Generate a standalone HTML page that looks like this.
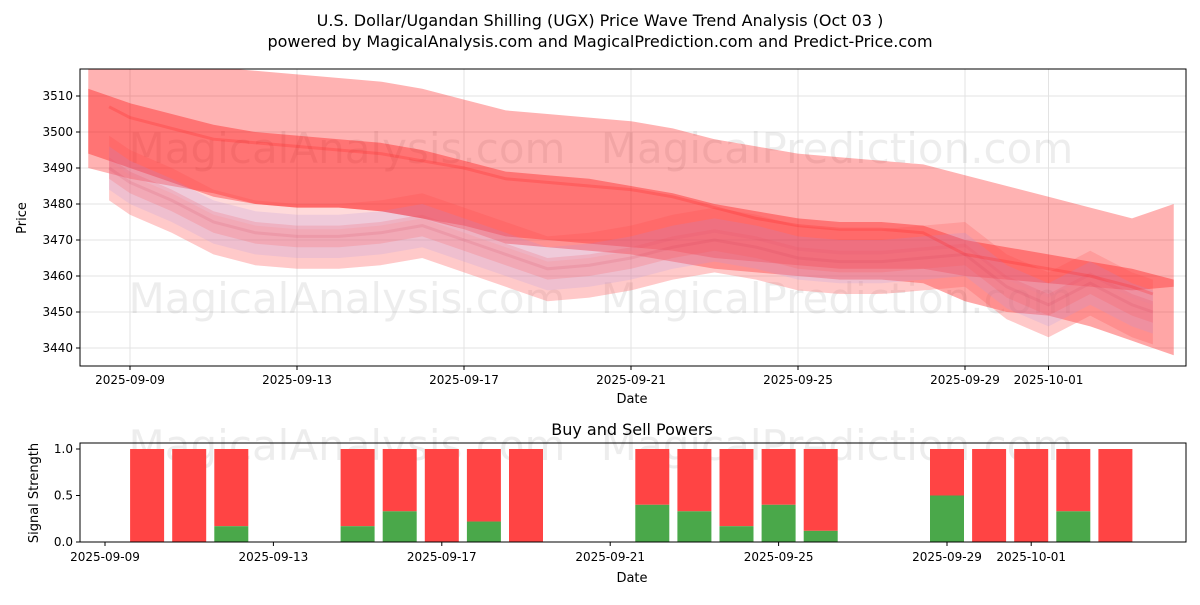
<!DOCTYPE html>
<html><head><meta charset="utf-8"><style>
body{margin:0;background:#fff;font-family:"Liberation Sans","DejaVu Sans",sans-serif}
svg text{font-family:"DejaVu Sans","Liberation Sans",sans-serif}
</style></head><body>
<svg id="c" width="1200" height="600" xmlns="http://www.w3.org/2000/svg"></svg>
<script>
// ---- data ----
const bandDays=[-1,0,1,2,3,4,5,6,7,8,9,10,11,12,13,14,15,16,17,18,19,20,21,22,23,24,25];
const wideTop=[3518,3518,3518,3518,3517,3516,3515,3514,3512,3509,3506,3505,3504,3503,3501,3498,3496,3494,3493,3492,3491,3488,3485,3482,3479,3476,3480];
const wideBot=[3490,3487,3485,3483,3480,3479,3479,3478,3476,3474,3471,3470,3469,3468,3467,3465,3464,3463,3462,3462,3462,3460,3459,3458,3457,3456,3457];
const midTop=[3512,3508,3505,3502,3500,3499,3498,3497,3495,3492,3489,3488,3487,3485,3483,3480,3478,3476,3475,3475,3474,3470,3468,3466,3464,3462,3459];
const midBot=[3494,3490,3486,3482,3480,3479,3479,3478,3476,3473,3469,3468,3467,3466,3464,3462,3461,3460,3459,3459,3458,3453,3450,3449,3446,3442,3438];
const lineDays=[-0.5,0,1,2,3,4,5,6,7,8,9,10,11,12,13,14,15,16,17,18,19,20,21,22,23,24,24.5];
const centerLine=[3490,3486,3481,3475,3472,3471,3471,3472,3474,3470,3466,3462,3463,3465,3468,3470,3468,3465,3464,3464,3465,3466,3457,3452,3458,3452,3450];
const redLine=[3507,3504,3501,3498,3497,3496,3495,3494,3492,3490,3487,3486,3485,3484,3482,3479,3476,3474,3473,3473,3472,3466,3464,3462,3460,3457,3455];
const barDates=["2025-09-10","2025-09-11","2025-09-12","2025-09-15","2025-09-16","2025-09-17","2025-09-18","2025-09-19","2025-09-22","2025-09-23","2025-09-24","2025-09-25","2025-09-26","2025-09-29","2025-09-30","2025-10-01","2025-10-02","2025-10-03"];
const buyPower=[0,0,0.17,0.17,0.33,0,0.22,0,0.4,0.33,0.17,0.4,0.12,0.5,0,0,0.33,0];
const xTickLabels=["2025-09-09","2025-09-13","2025-09-17","2025-09-21","2025-09-25","2025-09-29","2025-10-01"];
const xTickDays=[0,4,8,12,16,20,22];
const yTicks=[3440,3450,3460,3470,3480,3490,3500,3510];
const sTicks=[0,0.5,1];

const svg=document.getElementById('c');const NS='http://www.w3.org/2000/svg';
function mk(t,a,p){const e=document.createElementNS(NS,t);for(const k in a)e.setAttribute(k,a[k]);(p||svg).appendChild(e);return e;}
const X0=80,X1=1186,Y0=69,Y1=366;
const x=d=>130+d*41.75, y=p=>96+(3510-p)*3.6;
const bx=d=>105+d*42.1, by=v=>542-v*93;
const dayOf=s=>(new Date(s+"T00:00:00Z")-new Date("2025-09-09T00:00:00Z"))/864e5;
let t=mk('text',{x:600,y:26,'text-anchor':'middle','font-size':16});t.textContent="U.S. Dollar/Ugandan Shilling (UGX) Price Wave Trend Analysis (Oct 03 )";

t=mk('text',{x:600,y:47,'text-anchor':'middle','font-size':16});t.textContent="powered by MagicalAnalysis.com and MagicalPrediction.com and Predict-Price.com";

const defs=mk('defs',{});const cp=mk('clipPath',{id:'cl'},defs);mk('rect',{x:X0,y:Y0,width:X1-X0,height:Y1-Y0},cp);
yTicks.forEach(v=>{mk('line',{x1:X0,x2:X1,y1:y(v),y2:y(v),stroke:'#e3e3e3'});
 const l=mk('text',{x:73,y:y(v)+4,'text-anchor':'end','font-size':12});l.textContent=v;
 
 mk('line',{x1:76,x2:80,y1:y(v),y2:y(v),stroke:'#000'});});
xTickDays.forEach((d,i)=>{mk('line',{x1:x(d),x2:x(d),y1:Y0,y2:Y1,stroke:'#e3e3e3'});
 mk('line',{x1:x(d),x2:x(d),y1:Y1,y2:Y1+4,stroke:'#000'});
 const l=mk('text',{x:x(d),y:384,'text-anchor':'middle','font-size':12});l.textContent=xTickLabels[i];
 });
[[347,163],[837,163],[347,313],[837,313],[347,460],[837,460]].forEach(p=>{const w=mk('text',{x:p[0],y:p[1],'text-anchor':'middle','font-size':42,fill:'#000','fill-opacity':0.07});
 w.textContent=p[0]<600?"MagicalAnalysis.com":"MagicalPrediction.com";});
const g=mk('g',{'clip-path':'url(#cl)'});
function band(days,top,bot,fill,op,name,off){let pts=days.map((d,i)=>x(d)+','+y(top[i]+off));
 for(let i=days.length-1;i>=0;i--)pts.push(x(days[i])+','+y(bot[i]+off));
 const p=mk('polygon',{points:pts.join(' '),fill:fill,'fill-opacity':op},g);}
band(bandDays,wideTop,wideBot,'#ff0000',0.3,'wide-band',0);
band(bandDays,midTop,midBot,'#ff0000',0.35,'mid-band',0);
[-3,0,3].forEach((o,k)=>{const up=centerLine.map(v=>v+6),lo=centerLine.map(v=>v-6);
 band(lineDays,up,lo,k==1?'#9999ff':'#ff4444',0.2,'wave-band',o);});
band(lineDays,centerLine.map(v=>v+2),centerLine.map(v=>v-9),'#ff8888',0.2,'lower-band',0);
function line(days,vals,col,w,op,name){const p=mk('polyline',{points:days.map((d,i)=>x(d)+','+y(vals[i])).join(' '),fill:'none',stroke:col,'stroke-width':w,'stroke-opacity':op},g);
 }
line(lineDays,redLine,'#ff2222',3,0.25,'trend-line');
line(lineDays,centerLine,'#cc3355',3,0.12,'center-line');
mk('rect',{x:X0,y:Y0,width:X1-X0,height:Y1-Y0,fill:'none',stroke:'#000'});
t=mk('text',{x:632,y:403,'text-anchor':'middle','font-size':13});t.textContent="Date";
t=mk('text',{x:26,y:218,'text-anchor':'middle','font-size':13,transform:'rotate(-90 26 218)'});t.textContent="Price";
const B0=443,B1=542;
t=mk('text',{x:632,y:435,'text-anchor':'middle','font-size':16});t.textContent="Buy and Sell Powers";
barDates.forEach((s,i)=>{const d=dayOf(s),cx=bx(d);
 let r=mk('rect',{x:cx-17,y:by(1),width:34,height:by(buyPower[i])-by(1),fill:'#ff4444'});
 r=mk('rect',{x:cx-17,y:by(buyPower[i]),width:34,height:B1-by(buyPower[i]),fill:'#4aa84a'});});
sTicks.forEach(v=>{mk('line',{x1:76,x2:80,y1:by(v),y2:by(v),stroke:'#000'});const l=mk('text',{x:73,y:by(v)+4,'text-anchor':'end','font-size':12});l.textContent=v.toFixed(1);
 });
xTickDays.forEach((d,i)=>{mk('line',{x1:bx(d),x2:bx(d),y1:B1,y2:B1+4,stroke:'#000'});const l=mk('text',{x:bx(d),y:561,'text-anchor':'middle','font-size':12});l.textContent=xTickLabels[i];
 });
mk('rect',{x:X0,y:B0,width:X1-X0,height:B1-B0,fill:'none',stroke:'#000'});
t=mk('text',{x:632,y:582,'text-anchor':'middle','font-size':13});t.textContent="Date";
t=mk('text',{x:38,y:493,'text-anchor':'middle','font-size':13,transform:'rotate(-90 38 493)'});t.textContent="Signal Strength";
</script>
</body></html>
